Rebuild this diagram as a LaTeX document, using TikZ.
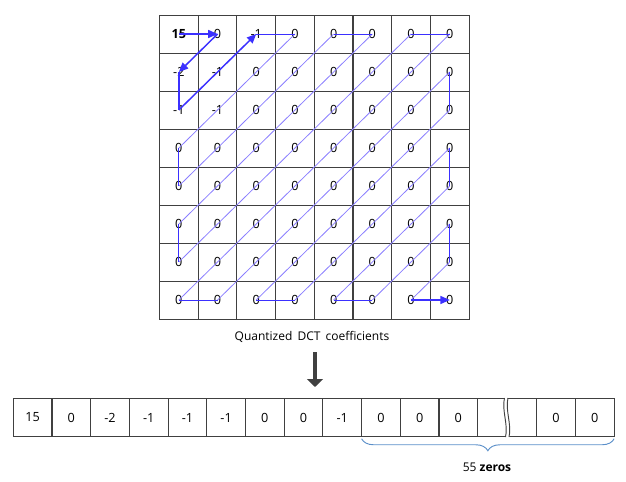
\documentclass[tikz,border=0pt]{standalone}
\usepackage{fontspec}
\setmainfont{Open Sans}
\usetikzlibrary{arrows.meta,positioning,decorations.pathreplacing}
\definecolor{zzBlue}{HTML}{3B30FF}
\definecolor{zzLight}{HTML}{8A7EFF}
\definecolor{gridGray}{HTML}{404040}
\definecolor{braceBlue}{HTML}{5B8FC9}

\begin{document}
\begin{tikzpicture}[x=0.75pt,y=-0.75pt,
    every node/.style={font=\fontsize{9.5}{11}\selectfont},
    cell/.style={draw=gridGray,line width=0.75pt,minimum width=29.03pt,minimum height=28.5pt,inner sep=0pt,outer sep=0pt},
    vcell/.style={cell,minimum height=28.9pt},
    hv/.style={zzBlue,line width=0.75pt},
    diag/.style={zzLight,line width=0.6pt},
    lead/.style={zzBlue,line width=1.1pt,-{Triangle[length=7pt,width=6pt]}}]
  \useasboundingbox (0,0) rectangle (626,482);
  \foreach \r/\vals in {0/{{\textbf{15}},0,-1,0,0,0,0,0},1/{-2,-1,0,0,0,0,0,0},2/{-1,-1,0,0,0,0,0,0},
      3/{0,0,0,0,0,0,0,0},4/{0,0,0,0,0,0,0,0},5/{0,0,0,0,0,0,0,0},6/{0,0,0,0,0,0,0,0},7/{0,0,0,0,0,0,0,0}}
    \foreach \v [count=\c from 0] in \vals
      \node[cell] (g-\r-\c) at ({178.85+38.7*\c},{34+38*\r}) {\v};
  \draw[lead] (g-0-0.center) -- (g-0-1.center);
  \draw[lead] (g-0-1.center) -- (g-1-0.center);
  \draw[zzBlue,line width=1.1pt] (g-1-0.center) -- (g-2-0.center);
  \draw[lead] (g-2-0.center) -- (g-0-2.center);
  \foreach \a/\b in {0-3/3-0,4-0/0-4,0-5/5-0,6-0/0-6,0-7/7-0,7-1/1-7,2-7/7-2,7-3/3-7,4-7/7-4,7-5/5-7,6-7/7-6}
    \draw[diag] (g-\a.center) -- (g-\b.center);
  \foreach \a/\b in {0-2/0-3,3-0/4-0,0-4/0-5,5-0/6-0,0-6/0-7,7-0/7-1,1-7/2-7,7-2/7-3,3-7/4-7,7-4/7-5,5-7/6-7}
    \draw[hv] (g-\a.center) -- (g-\b.center);
  \draw[hv,line width=1.1pt,-{Triangle[length=7pt,width=6pt]}] (g-7-6.center) -- (g-7-7.center);

  \node (qlabel) at (312,337) {\fontsize{9}{11}\selectfont Quantized\, DCT\, coefficients};
  \coordinate (dTop) at (315,352);
  \coordinate (dBot) at (315,387);
  \draw[gridGray,line width=3pt,-{Triangle[length=6pt,width=12pt]}] (dTop) -- (dBot);

  \foreach \v [count=\i from 0] in {15,0,-2,-1,-1,-1,0,0,-1,0,0,0}
    \node[vcell] (v-\i) at ({32.65+38.7*\i},417.5) {\v};
  \node[vcell,minimum width=44.25pt,right=0pt of v-11] (vgap) {};
  \node[vcell,right=0pt of vgap] (v-12) {0};
  \node[vcell,right=0pt of v-12] (v-13) {0};
  \fill[white] (504.5,396) .. controls (501,410) and (509,425) .. (505.5,439)
    -- (509,439) .. controls (512.5,425) and (504.5,410) .. (508,396) -- cycle;
  \draw[gridGray,line width=0.7pt] (504.5,398) .. controls (501.5,410) and (508.5,425) .. (505.5,437);
  \draw[gridGray,line width=0.7pt] (508,398) .. controls (505,410) and (512,425) .. (509,437);

  \draw[braceBlue,line width=0.7pt,decorate,decoration={brace,mirror,amplitude=9pt}]
    ([yshift=-1.5pt]v-9.south west) -- ([yshift=-1.5pt]v-13.south east);
  \node (zlabel) at (487,467) {\fontsize{9}{11}\selectfont 55 \textbf{zeros}};
\end{tikzpicture}
\end{document}
